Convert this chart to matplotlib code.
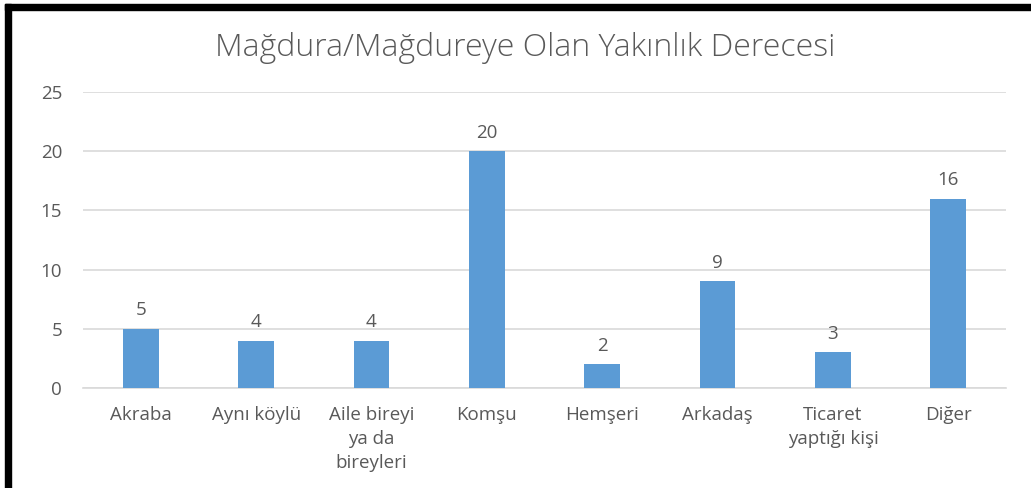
import matplotlib
matplotlib.use("Agg")
import matplotlib.pyplot as plt
from matplotlib.patches import Rectangle

categories = ["Akraba", "Aynı köylü", "Aile bireyi\nya da\nbireyleri", "Komşu",
              "Hemşeri", "Arkadaş", "Ticaret\nyaptığı kişi", "Diğer"]
values = [5, 4, 4, 20, 2, 9, 3, 16]
title = "Mağdura/Mağdureye Olan Yakınlık Derecesi"
yticks = [0, 5, 10, 15, 20, 25]

BAR = "#5B9BD5"
TXT = "#595959"
GRID = "#D9D9D9"

plt.rcParams["font.family"] = ["Open Sans", "DejaVu Sans"]

W, H = 1031, 488
fig = plt.figure(figsize=(W / 100, H / 100), dpi=100)
ax = fig.add_axes([83 / W, 1 - 388 / H, 923 / W, 296 / H])

x = range(len(categories))
ax.bar(x, values, width=0.31, color=BAR, zorder=3)
for xi, v in zip(x, values):
    ax.text(xi, v + 0.8, str(v), ha="center", va="bottom", fontsize=13.5, color=TXT)

ax.set_xlim(-0.5, len(categories) - 0.5)
ax.set_ylim(0, 25)
ax.set_yticks(yticks)
ax.yaxis.grid(True, color=GRID, linewidth=1.2, zorder=0)
ax.set_axisbelow(True)
for s in ["top", "right", "left"]:
    ax.spines[s].set_visible(False)
ax.spines["bottom"].set_color(GRID)
ax.spines["bottom"].set_linewidth(1.2)
ax.tick_params(axis="both", length=0, colors=TXT, labelsize=13.5)
ax.tick_params(axis="y", pad=15)
ax.tick_params(axis="x", pad=13)
ax.set_xticks(list(x))
ax.set_xticklabels(categories, linespacing=1.42)

fig.text(525 / W, 1 - 48 / H, title, ha="center", va="center", fontsize=23,
         color=TXT, fontweight="light")

# black frame along the top and left edges
fig.patches.append(Rectangle((5 / W, 1 - 10 / H), 1 - 5 / W, 6 / H,
                             transform=fig.transFigure, color="black", zorder=10))
fig.patches.append(Rectangle((5 / W, 0), 6 / W, 1 - 4 / H,
                             transform=fig.transFigure, color="black", zorder=10))

fig.savefig("out.png", dpi=100)
